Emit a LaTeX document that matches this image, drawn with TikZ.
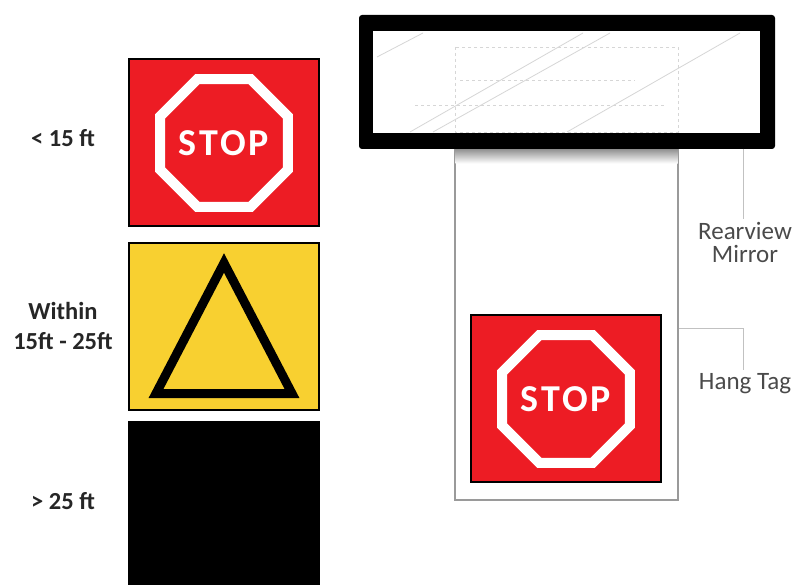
\documentclass[tikz,border=0pt]{standalone}
\usepackage{fontspec}
\setmainfont{Carlito}
\newfontfamily\stopfont[LetterSpace=8]{Carlito}
\usetikzlibrary{shapes.geometric}
\definecolor{signred}{HTML}{ED1C24}
\definecolor{signyellow}{HTML}{F8D030}
\definecolor{ghostgray}{HTML}{D6D6D6}
\definecolor{cardgray}{HTML}{9A9A9A}
\definecolor{textgray}{HTML}{4A4A4A}
\tikzset{
    sign/.style={draw=black,line width=2pt,minimum width=190pt,minimum height=167pt,inner sep=0pt},
    octagon/.style={draw=white,line width=10pt,regular polygon,regular polygon sides=8,minimum size=138.5pt,inner sep=0pt,text=white,font=\stopfont\bfseries\fontsize{38}{38}\selectfont},
    distlabel/.style={align=center,text=black!85,font=\bfseries\fontsize{24.5}{30}\selectfont},
    partlabel/.style={align=center,text=textgray,font=\fontsize{25}{23}\selectfont},
    leader/.style={draw=ghostgray!90!black,line width=1pt},
    ghost/.style={draw=ghostgray,line width=.8pt}
}
\begin{document}
\begin{tikzpicture}[x=1pt,y=-1pt]
        \useasboundingbox (0,0) rectangle (795,585);

        % Signs
        \node[sign,fill=signred] (nearsign) at (223.5,143) {};
        \node[octagon] (nearstop) at (224,143) {\raisebox{-4pt}{STOP}};
        \node[sign,fill=signyellow] (midsign) at (223.5,326.5) {};
        \node[draw=black,fill=black,minimum width=191pt,minimum height=164pt,inner sep=0pt,outer sep=0pt] (farsign) at (224,503) {};
        \draw[black,line width=9pt,miter limit=10] (224,263) -- (156,393.5) -- (292,393.5) -- cycle;

        % Labels
        \node[distlabel] (nearlabel) at (63,138) {< 15 ft};
        \node[distlabel] (midlabel) at (63,326) {Within\\15ft - 25ft};
        \node[distlabel] (farlabel) at (63,501) {> 25 ft};

        % Hang tag
        \node[draw=cardgray,fill=white,line width=1.2pt,minimum width=223pt,minimum height=351pt,inner sep=0pt] (card) at (566.5,324.5) {};
        \node[top color=black!45,bottom color=white,minimum width=222pt,minimum height=15pt,inner sep=0pt] (shadow) at (566.5,156) {};
        \node[sign,fill=signred] (tagsign) at (565.5,398.5) {};
        \node[octagon] (tagstop) at (566,399) {\raisebox{-3pt}{STOP}};

        % Mirror
        \node[fill=black,rounded corners=3pt,minimum width=416pt,minimum height=134pt,inner sep=0pt,outer sep=0pt] (mirror) at (567,82) {};
        \node[fill=white,minimum width=387pt,minimum height=102pt,inner sep=0pt,outer sep=0pt] (glass) at (566.5,82) {};
        \draw[ghost] (377,57) -- (423,33);
        \draw[ghost] (410,132) -- (583,33);
        \draw[ghost] (433,132) -- (610,33);
        \draw[ghost] (567,132) -- (740,33);
        \draw[ghost,dashed] (455,47) rectangle (678,132);
        \draw[ghost,dashed] (460,80) -- (635,80);
        \draw[ghost,dashed] (415,105) -- (665,105);

        % Connections
        \node[partlabel] (mirrorlabel) at (745,242.5) {Rearview\\Mirror};
        \node[partlabel] (taglabel) at (745,384) {Hang Tag};
        \coordinate (tagbend) at (743,328);
        \draw[leader] (mirror.south -| tagbend) -- ([xshift=-2pt]mirrorlabel.north);
        \draw[leader] (card.east |- tagbend) -- (tagbend) -- ([xshift=-2pt]taglabel.north);
    \end{tikzpicture}
\end{document}
